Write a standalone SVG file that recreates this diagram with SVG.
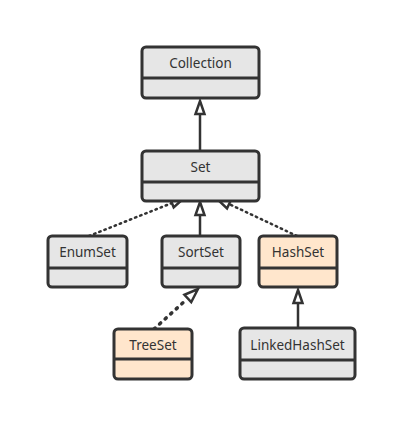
<svg xmlns="http://www.w3.org/2000/svg" width="417" height="441" viewBox="0 0 417 441">
<style>
.box{stroke:#333;stroke-width:3;}
.g{fill:#e6e6e6;}
.o{fill:#ffe6cc;}
.div{stroke:#333;stroke-width:3;fill:none;}
.t{font-family:"Noto Sans","Open Sans",sans-serif;font-size:13.5px;fill:#333;text-anchor:middle;}
.ln{stroke:#333;stroke-width:2.5;fill:none;}
.dot{stroke:#333;stroke-width:2.5;fill:none;stroke-dasharray:1.5 4;stroke-linecap:round;}
.dot2{stroke:#333;stroke-width:3.5;fill:none;stroke-dasharray:1.5 6;stroke-linecap:round;}
.head{fill:#fff;stroke:#333;stroke-width:2.5;stroke-linejoin:miter;}
</style>
<rect width="417" height="441" fill="#fff"/>
<g id="connectors">
  <line class="ln" x1="200" y1="151" x2="200" y2="112"/>
  <polygon class="head" points="200,101 204.5,114 195.5,114"/>
  <line class="ln" x1="200" y1="236" x2="200" y2="214"/>
  <polygon class="head" points="200,202 204.5,215 195.5,215"/>
  <line class="dot" x1="89" y1="236" x2="172" y2="203"/>
  <polygon class="head" points="184,198 173.7,207.4 170,198.2"/>
  <line class="dot" x1="297" y1="236" x2="229" y2="204"/>
  <polygon class="head" points="216,198 231,200 227,208.5"/>
  <line class="dot2" x1="154" y1="329" x2="186" y2="300"/>
  <polygon class="head" points="198,289 191.2,302.2 184.4,294.8"/>
  <line class="ln" x1="298" y1="328" x2="298" y2="302"/>
  <polygon class="head" points="298,290 302.5,303 293.5,303"/>
</g>
<g id="Collection">
  <rect class="box g" x="142" y="47" width="117" height="51" rx="4"/>
  <line class="div" x1="142" y1="78" x2="259" y2="78"/>
  <text class="t" x="200.5" y="67.5">Collection</text>
</g>
<g id="Set">
  <rect class="box g" x="142" y="151" width="117" height="50" rx="4"/>
  <line class="div" x1="142" y1="182" x2="259" y2="182"/>
  <text class="t" x="200.5" y="171.5">Set</text>
</g>
<g id="EnumSet">
  <rect class="box g" x="48" y="236" width="79" height="51" rx="4"/>
  <line class="div" x1="48" y1="268" x2="127" y2="268"/>
  <text class="t" x="87.5" y="256.5">EnumSet</text>
</g>
<g id="SortSet">
  <rect class="box g" x="162" y="236" width="78" height="51" rx="4"/>
  <line class="div" x1="162" y1="268" x2="240" y2="268"/>
  <text class="t" x="201" y="256.5">SortSet</text>
</g>
<g id="HashSet">
  <rect class="box o" x="259" y="236" width="78" height="51" rx="4"/>
  <line class="div" x1="259" y1="268" x2="337" y2="268"/>
  <text class="t" x="298" y="256.5">HashSet</text>
</g>
<g id="TreeSet">
  <rect class="box o" x="114" y="329" width="78" height="50" rx="4"/>
  <line class="div" x1="114" y1="359" x2="192" y2="359"/>
  <text class="t" x="153" y="349.5">TreeSet</text>
</g>
<g id="LinkedHashSet">
  <rect class="box g" x="240" y="328" width="115" height="51" rx="4"/>
  <line class="div" x1="240" y1="360" x2="355" y2="360"/>
  <text class="t" x="297.5" y="349.5">LinkedHashSet</text>
</g>
</svg>
